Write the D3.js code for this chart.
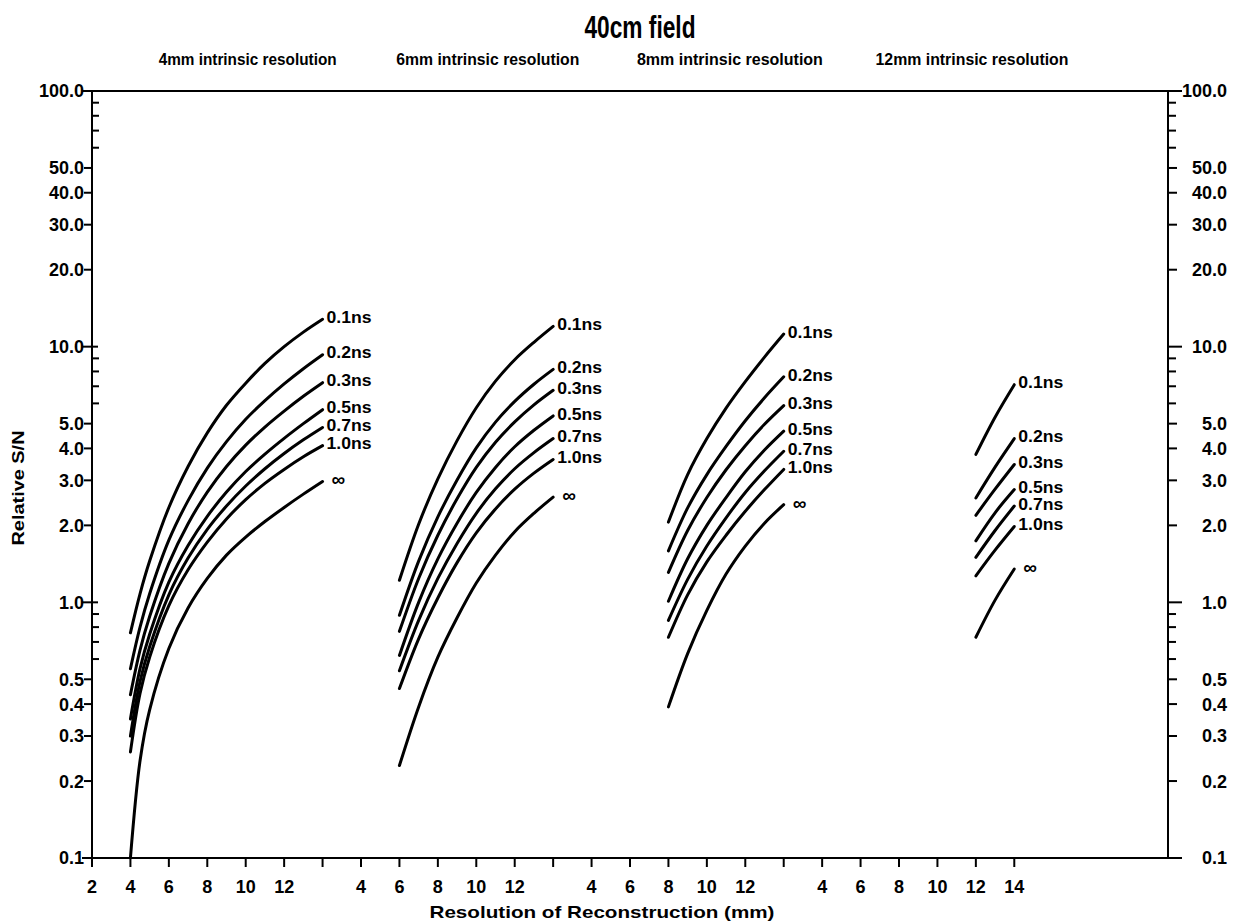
<!DOCTYPE html>
<html><head><meta charset="utf-8">
<script src="https://cdn.jsdelivr.net/npm/d3@7/dist/d3.min.js"></script>
<style>
body{margin:0;background:#fff;}
text{font-family:"Liberation Sans Narrow","Arial Narrow","Liberation Sans",Arial,sans-serif;font-weight:bold;fill:#000;}
</style></head><body>
<svg id="chart" width="1239" height="922"></svg>
<script>
// ---------- data ----------
const seriesLabels = ["0.1ns","0.2ns","0.3ns","0.5ns","0.7ns","1.0ns","\u221E"];
const groupTitles = ["4mm intrinsic resolution","6mm intrinsic resolution","8mm intrinsic resolution","12mm intrinsic resolution"];
const groupShift = [0, 12, 24, 36];              // offset of each panel on the shared mm axis
const groupTitleAt = [10.1, 22.6, 35.2, 47.8];
const groupTitleWidth = [178, 183, 186, 193];

// 4mm intrinsic resolution
const g1X = [4, 4.5, 5, 6, 7, 8, 9, 10, 11, 12, 13, 14];
const g1_01 = [0.76, 1.08, 1.45, 2.35, 3.4, 4.6, 5.9, 7.2, 8.6, 10.0, 11.4, 12.8];
const g1_02 = [0.55, 0.80, 1.08, 1.75, 2.5, 3.35, 4.25, 5.2, 6.15, 7.15, 8.2, 9.3];
const g1_03 = [0.435, 0.65, 0.88, 1.42, 2.03, 2.7, 3.4, 4.12, 4.85, 5.6, 6.4, 7.23];
const g1_05 = [0.35, 0.55, 0.75, 1.2, 1.67, 2.17, 2.7, 3.25, 3.8, 4.38, 5.0, 5.67];
const g1_07 = [0.30, 0.49, 0.67, 1.07, 1.49, 1.93, 2.38, 2.85, 3.33, 3.82, 4.32, 4.83];
const g1_10 = [0.26, 0.44, 0.61, 0.97, 1.34, 1.72, 2.12, 2.52, 2.92, 3.31, 3.71, 4.1];
const g1_inf = [0.1, 0.24, 0.38, 0.66, 0.95, 1.24, 1.53, 1.8, 2.07, 2.35, 2.65, 2.97];

// 6mm intrinsic resolution
const g2X = [6, 7, 8, 9, 10, 11, 12, 13, 14];
const g2_01 = [1.22, 2.02, 3.04, 4.29, 5.77, 7.33, 8.89, 10.4, 12.0];
const g2_02 = [0.89, 1.45, 2.16, 3.01, 4.02, 5.07, 6.11, 7.13, 8.15];
const g2_03 = [0.77, 1.24, 1.83, 2.54, 3.37, 4.23, 5.08, 5.92, 6.75];
const g2_05 = [0.62, 1.0, 1.48, 2.04, 2.69, 3.37, 4.06, 4.71, 5.36];
const g2_07 = [0.54, 0.85, 1.24, 1.70, 2.23, 2.78, 3.33, 3.85, 4.37];
const g2_10 = [0.46, 0.72, 1.04, 1.43, 1.87, 2.32, 2.77, 3.2, 3.62];
const g2_inf = [0.23, 0.39, 0.61, 0.87, 1.19, 1.53, 1.89, 2.23, 2.58];

// 8mm intrinsic resolution
const g3X = [8, 9, 10, 11, 12, 13, 14];
const g3_01 = [2.06, 3.16, 4.37, 5.75, 7.3, 9.1, 11.2];
const g3_02 = [1.59, 2.34, 3.16, 4.07, 5.13, 6.31, 7.62];
const g3_03 = [1.31, 1.91, 2.57, 3.3, 4.1, 4.97, 5.88];
const g3_05 = [1.01, 1.48, 2.0, 2.57, 3.24, 3.94, 4.67];
const g3_07 = [0.85, 1.23, 1.66, 2.14, 2.69, 3.27, 3.9];
const g3_10 = [0.73, 1.07, 1.44, 1.83, 2.27, 2.76, 3.31];
const g3_inf = [0.39, 0.63, 0.93, 1.29, 1.66, 2.04, 2.41];

// 12mm intrinsic resolution
const g4X = [12, 13, 14];
const g4_01 = [3.79, 5.3, 7.1];
const g4_02 = [2.56, 3.38, 4.37];
const g4_03 = [2.19, 2.77, 3.46];
const g4_05 = [1.74, 2.24, 2.76];
const g4_07 = [1.50, 1.91, 2.38];
const g4_10 = [1.27, 1.6, 1.98];
const g4_inf = [0.73, 1.02, 1.35];

const xTickLabels = ["2","4","6","8","10","12","","4","6","8","10","12","","4","6","8","10","12","","4","6","8","10","12","14"];
const yLabeled = [100,50,40,30,20,10,5,4,3,2,1,0.5,0.4,0.3,0.2,0.1];
const yMinor = [90,80,70,60,9,8,7,6,0.9,0.8,0.7,0.6];
const yDecades = [100,10,1,0.1];

// ---------- build ----------
const groups = [
  {x:g1X, ys:[g1_01,g1_02,g1_03,g1_05,g1_07,g1_10,g1_inf]},
  {x:g2X, ys:[g2_01,g2_02,g2_03,g2_05,g2_07,g2_10,g2_inf]},
  {x:g3X, ys:[g3_01,g3_02,g3_03,g3_05,g3_07,g3_10,g3_inf]},
  {x:g4X, ys:[g4_01,g4_02,g4_03,g4_05,g4_07,g4_10,g4_inf]}
];

const svg = d3.select("#chart");
const x = d3.scaleLinear().domain([2, 58]).range([92, 1168]);
const y = d3.scaleLog().domain([0.1, 100]).range([858, 91]);
const xL = x.range()[0], xR = x.range()[1];
const yT = y.range()[1], yB = y.range()[0];

const fmt = v => v >= 1 ? v.toFixed(1) : String(v);

// frame: left axis, right axis, top line, bottom axis
const ax = svg.append("g").attr("stroke","#000").attr("stroke-width",2).attr("fill","none");
ax.append("line").attr("x1",xL).attr("x2",xL).attr("y1",yT).attr("y2",yB);
ax.append("line").attr("x1",xR).attr("x2",xR).attr("y1",yT).attr("y2",yB);
ax.append("line").attr("x1",xL).attr("x2",xR).attr("y1",yT).attr("y2",yT);
ax.append("line").attr("x1",xL-8).attr("x2",xR+14).attr("y1",yB).attr("y2",yB);

// y ticks
yLabeled.forEach(v => {
  const isDec = yDecades.includes(v);
  ax.append("line").attr("x1",xL-(isDec?10:8)).attr("x2",xL+(isDec?6:0)).attr("y1",y(v)).attr("y2",y(v));
  ax.append("line").attr("x1",xR).attr("x2",xR+(isDec?14:9)).attr("y1",y(v)).attr("y2",y(v));
});
yMinor.forEach(v => {
  ax.append("line").attr("x1",xL).attr("x2",xL+7).attr("y1",y(v)).attr("y2",y(v));
  ax.append("line").attr("x1",xR).attr("x2",xR+8).attr("y1",y(v)).attr("y2",y(v));
});
const lbl = svg.append("g");
yLabeled.forEach(v => {
  lbl.append("text").attr("x",xL-8).attr("y",y(v)).attr("dy","0.36em").attr("text-anchor","end").attr("font-size",18).text(fmt(v));
  lbl.append("text").attr("x",1227).attr("y",y(v)).attr("dy","0.36em").attr("text-anchor","end").attr("font-size",18).text(fmt(v));
});

// x ticks
xTickLabels.forEach((t,i) => {
  const u = 2 + 2*i;
  ax.append("line").attr("x1",x(u)).attr("x2",x(u)).attr("y1",yB).attr("y2",yB+9);
  if (t) lbl.append("text").attr("x",x(u)).attr("y",yB+35).attr("text-anchor","middle").attr("font-size",18).text(t);
});

// titles
svg.append("text").attr("x",640).attr("y",38).attr("text-anchor","middle").attr("font-size",31)
  .attr("textLength",111).attr("lengthAdjust","spacingAndGlyphs").text("40cm field");
groupTitles.forEach((t,i) => {
  svg.append("text").attr("x",x(groupTitleAt[i])).attr("y",65).attr("text-anchor","middle").attr("font-size",17)
    .attr("textLength",groupTitleWidth[i]).attr("lengthAdjust","spacingAndGlyphs").text(t);
});
svg.append("text").attr("x",602).attr("y",918).attr("text-anchor","middle").attr("font-size",17)
  .attr("textLength",345).attr("lengthAdjust","spacingAndGlyphs").text("Resolution of Reconstruction (mm)");
svg.append("text").attr("transform","translate(24,488) rotate(-90)").attr("text-anchor","middle").attr("font-size",16)
  .attr("textLength",115).attr("lengthAdjust","spacingAndGlyphs").text("Relative S/N");

// curves
const line = d3.line().x(d => x(d[0])).y(d => y(d[1])).curve(d3.curveCatmullRom.alpha(0.5));
const cg = svg.append("g").attr("fill","none").attr("stroke","#000").attr("stroke-width",3).attr("stroke-linecap","round");
groups.forEach((g,gi) => {
  g.ys.forEach((vals,si) => {
    const pts = g.x.map((xv,k) => [xv + groupShift[gi], vals[k]]);
    cg.append("path").attr("d", line(pts));
    const last = pts[pts.length-1];
    const isInf = si === seriesLabels.length-1;
    const t = lbl.append("text").attr("x", x(last[0]) + (isInf ? 9 : 4)).attr("y", y(last[1]) - 2)
      .attr("dy","0.36em").attr("font-size", isInf ? 19 : 16).text(seriesLabels[si]);
    if (!isInf) t.attr("textLength",45).attr("lengthAdjust","spacingAndGlyphs");
  });
});
</script>
</body></html>
